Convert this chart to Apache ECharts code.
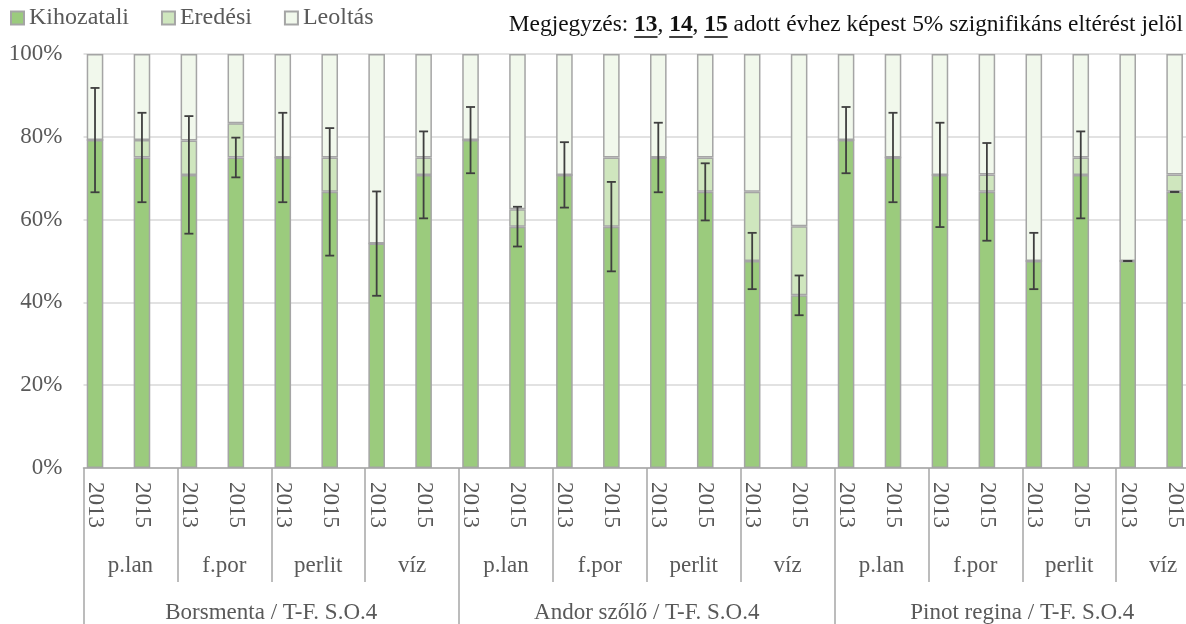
<!DOCTYPE html>
<html>
<head>
<meta charset="utf-8">
<script src="https://cdn.jsdelivr.net/npm/echarts@6/dist/echarts.min.js"></script>
<style>
  html, body { margin: 0; padding: 0; background: #fff; }
  #main { width: 1186px; height: 624px; }
</style>
</head>
<body>
<div id="main"></div>
<script>
// categories (3 levels)
var years = ['2013', '2015', '2013', '2015', '2013', '2015', '2013', '2015',
             '2013', '2015', '2013', '2015', '2013', '2015', '2013', '2015',
             '2013', '2015', '2013', '2015', '2013', '2015', '2013', '2015'];
var substrates = ['p.lan', 'f.por', 'perlit', 'víz', 'p.lan', 'f.por', 'perlit', 'víz',
                  'p.lan', 'f.por', 'perlit', 'víz'];
var varieties = ['Borsmenta / T-F. S.O.4', 'Andor szőlő / T-F. S.O.4', 'Pinot regina / T-F. S.O.4'];

// values in %
var kihozatali = [79.2, 75, 70.8, 75, 75, 66.7, 54.2, 70.8,
                  79.2, 58.3, 70.8, 58.3, 75, 66.7, 50, 41.7,
                  79.2, 75, 70.8, 66.7, 50, 70.8, 50, 66.7];
var eredesi = [0, 4.2, 8.3, 8.3, 0, 8.3, 0, 4.2,
               0, 4.2, 0, 16.7, 0, 8.3, 16.7, 16.7,
               0, 0, 0, 4.2, 0, 4.2, 0, 4.2];
var leoltas = [20.8, 20.8, 20.9, 16.7, 25, 25, 45.8, 25,
               20.8, 37.5, 29.2, 25, 25, 25, 33.3, 41.6,
               20.8, 25, 29.2, 29.1, 50, 25, 50, 29.1];
// error (+/-) around the Kihozatali value
var hiba = [12.6, 10.8, 14.2, 4.8, 10.8, 15.4, 12.6, 10.5,
            8, 4.8, 7.9, 10.8, 8.4, 6.9, 6.8, 4.8,
            8, 10.8, 12.6, 11.8, 6.8, 10.5, 0, 0];

var FONT = '"Liberation Serif", "Times New Roman", serif';
var GRAY = '#595959';
var BAR_W = 16.6;
var BAR_GAP = 0.44;
var BAR_SHIFT = -(BAR_W * (1 + BAR_GAP)) / 2;   // bar centre sits left of category centre
var CAT_W = 46.94;
var PLOT_LEFT = 83.5;
var PLOT_W = CAT_W * years.length;

// note text with bold underlined numbers, fitted to the reference width
var noteParts = [
  ['Megjegyzés: ', false], ['13', true], [', ', false], ['14', true], [', ', false],
  ['15', true], [' adott évhez képest 5% szignifikáns eltérést jelöl', false]
];
var ctx = document.createElement('canvas').getContext('2d');
var noteSize = 20;
function noteFont(bold) { return (bold ? 'bold ' : '') + noteSize + 'px ' + FONT; }
function measureAll() {
  return noteParts.map(function (p) { ctx.font = noteFont(p[1]); return ctx.measureText(p[0]).width; });
}
var w0 = measureAll().reduce(function (a, b) { return a + b; }, 0);
noteSize = Math.round(20 * 675 / w0 * 10) / 10;
var widths = measureAll();
var total = widths.reduce(function (a, b) { return a + b; }, 0);
var noteEls = [];
var nx = 1183 - total;
noteParts.forEach(function (p, i) {
  noteEls.push({ type: 'text', x: nx, y: 25, style: { text: p[0], font: noteFont(p[1]), fill: '#111', verticalAlign: 'middle' } });
  if (p[1]) {
    noteEls.push({ type: 'line', shape: { x1: nx, y1: 37, x2: nx + widths[i], y2: 37 }, style: { stroke: '#111', lineWidth: 1.6 } });
  }
  nx += widths[i];
});

var myChart = echarts.init(document.getElementById('main'));
var barBorder = { borderColor: '#A5A5A5', borderWidth: 1.5 };

option = {
  animation: false,
  legend: {
    data: ['Kihozatali', 'Eredési', 'Leoltás'],
    left: 10,
    top: 6,
    icon: 'rect',
    itemWidth: 13,
    itemHeight: 13,
    itemGap: 32,
    padding: 0,
    textStyle: { fontFamily: FONT, fontSize: 24, color: GRAY }
  },
  graphic: noteEls,
  grid: [
    { left: PLOT_LEFT, top: 54, width: PLOT_W, height: 414, outerBoundsMode: 'none', containLabel: false },
    { left: PLOT_LEFT + BAR_SHIFT, top: 54, width: PLOT_W, height: 414, outerBoundsMode: 'none', containLabel: false }
  ],
  xAxis: [
    {
      type: 'category', gridIndex: 0, data: years,
      axisLine: { lineStyle: { color: '#A6A6A6', width: 1.5 } },
      axisTick: { show: false }, axisLabel: { show: false }
    },
    {
      type: 'category', gridIndex: 0, data: substrates, position: 'bottom',
      axisLine: { show: false },
      axisTick: { show: true, length: 114, interval: 0, lineStyle: { color: '#A6A6A6', width: 1.5 } },
      axisLabel: { interval: 0, margin: 86, fontFamily: FONT, fontSize: 23, color: GRAY }
    },
    {
      type: 'category', gridIndex: 0, data: varieties, position: 'bottom',
      axisLine: { show: false },
      axisTick: { show: true, length: 160, interval: 0, lineStyle: { color: '#A6A6A6', width: 1.5 } },
      axisLabel: { interval: 0, margin: 133, fontFamily: FONT, fontSize: 23, color: GRAY }
    },
    {
      type: 'category', gridIndex: 1, data: years,
      axisLine: { show: false }, axisTick: { show: false },
      axisLabel: { interval: 0, rotate: -90, margin: 14, fontFamily: FONT, fontSize: 23, color: GRAY }
    }
  ],
  yAxis: [
    {
      type: 'value', gridIndex: 0, min: 0, max: 100, interval: 20,
      axisLine: { show: false }, axisTick: { show: false },
      splitLine: { lineStyle: { color: '#D9D9D9', width: 1.5 } },
      axisLabel: { formatter: '{value}%', margin: 21, fontFamily: FONT, fontSize: 23, color: GRAY }
    },
    { type: 'value', gridIndex: 1, min: 0, max: 100, show: false }
  ],
  series: [
    {
      name: 'Kihozatali', type: 'bar', stack: 'a', barWidth: BAR_W, barGap: BAR_GAP * 100 + '%',
      itemStyle: Object.assign({ color: '#9BCB7D' }, barBorder), data: kihozatali
    },
    {
      name: 'Eredési', type: 'bar', stack: 'a', barWidth: BAR_W, barGap: BAR_GAP * 100 + '%',
      itemStyle: Object.assign({ color: '#CFE6BE' }, barBorder), data: eredesi
    },
    {
      name: 'Leoltás', type: 'bar', stack: 'a', barWidth: BAR_W, barGap: BAR_GAP * 100 + '%',
      itemStyle: Object.assign({ color: '#F1F8EC' }, barBorder), data: leoltas
    },
    {
      name: 'pad', type: 'bar', stack: 'b', barWidth: BAR_W, barGap: BAR_GAP * 100 + '%',
      data: years.map(function () { return '-'; })
    },
    {
      name: 'hiba', type: 'custom', z: 5, silent: true,
      data: kihozatali.map(function (v, i) { return [i, v, hiba[i]]; }),
      encode: { x: 0, y: 1 },
      renderItem: function (params, api) {
        var i = api.value(0), v = api.value(1), e = api.value(2);
        var hi = api.coord([i, v + e]);
        var lo = api.coord([i, v - e]);
        var x = hi[0] + BAR_SHIFT;
        var cap = 4.5;
        var st = { stroke: '#3F3F3F', lineWidth: 1.8 };
        return {
          type: 'group',
          children: [
            { type: 'line', shape: { x1: x, y1: hi[1], x2: x, y2: lo[1] }, style: st },
            { type: 'line', shape: { x1: x - cap, y1: hi[1], x2: x + cap, y2: hi[1] }, style: st },
            { type: 'line', shape: { x1: x - cap, y1: lo[1], x2: x + cap, y2: lo[1] }, style: st }
          ]
        };
      }
    }
  ]
};
myChart.setOption(option);
</script>
</body>
</html>
